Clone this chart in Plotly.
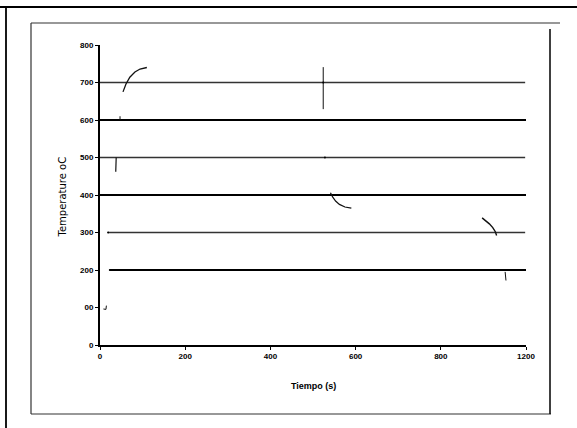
import plotly.graph_objects as go

# ---- data ----
x_tickvals = [0, 200, 400, 600, 800, 1000]
x_ticktext = ["0", "200", "400", "600", "800", "1200"]
y_tickvals = [0, 100, 200, 300, 400, 500, 600, 700, 800]
y_ticktext = ["0", "00", "200", "300", "400", "500", "600", "700", "800"]

# horizontal temperature levels (start time, end time, level)
level_values = [700, 600, 500, 400, 300, 200]
level_start = [0, 0, 0, 0, 19, 23]
level_end = [998, 1000, 998, 1000, 998, 1000]
level_thick = [False, True, False, True, False, True]

# curve fragments
arc1_x = [54, 61, 70, 82, 94, 110]
arc1_y = [675, 696, 714, 728, 736, 740]
tick600_x = [47, 47]
tick600_y = [600, 610]
tick500_x = [37, 38]
tick500_y = [462, 500]
cross_v_x = [524, 524]
cross_v_y = [629, 741]
curve400_x = [541, 546, 553, 562, 575, 590]
curve400_y = [406, 395, 384, 375, 368, 365]
curve300_x = [897, 905, 914, 922, 928, 931]
curve300_y = [339, 332, 323, 313, 302, 292]
tick200_x = [951, 953]
tick200_y = [195, 172]
mark100_x = [8, 14, 15]
mark100_y = [96, 95, 105]
dots_x = [19, 23, 524, 528]
dots_y = [300, 200, 700, 500]

W, H = 577, 428
L, R, T, B = 100, 526, 45, 345

fig = go.Figure()

for lv, xs, xe, th in zip(level_values, level_start, level_end, level_thick):
    fig.add_trace(go.Scatter(
        x=[xs, xe], y=[lv, lv], mode="lines",
        line=dict(color="#000000" if th else "#333333", width=2.2 if th else 1.3),
        showlegend=False, hoverinfo="skip"))

for xs, ys, w in [(arc1_x, arc1_y, 1.3), (tick600_x, tick600_y, 1.0),
                  (tick500_x, tick500_y, 1.2), (cross_v_x, cross_v_y, 1.0),
                  (curve400_x, curve400_y, 1.2), (curve300_x, curve300_y, 1.4),
                  (tick200_x, tick200_y, 1.0), (mark100_x, mark100_y, 1.0)]:
    fig.add_trace(go.Scatter(x=xs, y=ys, mode="lines",
                             line=dict(color="#111111", width=w),
                             showlegend=False, hoverinfo="skip"))

fig.add_trace(go.Scatter(x=dots_x, y=dots_y, mode="markers",
                         marker=dict(color="black", size=2),
                         showlegend=False, hoverinfo="skip"))

def px2x(p):
    return (p - L) / (R - L)

def py2y(p):
    return (B - p) / (B - T)

shapes = []
# outer frame lines
shapes.append(dict(type="line", xref="paper", yref="paper",
                   x0=px2x(0), x1=px2x(577), y0=py2y(7), y1=py2y(7),
                   line=dict(color="black", width=2)))
shapes.append(dict(type="line", xref="paper", yref="paper",
                   x0=px2x(6), x1=px2x(6), y0=py2y(7), y1=py2y(428),
                   line=dict(color="black", width=1.8)))
# inner frame
shapes.append(dict(type="line", xref="paper", yref="paper",
                   x0=px2x(31), x1=px2x(560), y0=py2y(23), y1=py2y(23),
                   line=dict(color="#333333", width=1.2)))
shapes.append(dict(type="line", xref="paper", yref="paper",
                   x0=px2x(31), x1=px2x(31), y0=py2y(23), y1=py2y(414),
                   line=dict(color="#333333", width=1.2)))
shapes.append(dict(type="line", xref="paper", yref="paper",
                   x0=px2x(31), x1=px2x(551), y0=py2y(414), y1=py2y(414),
                   line=dict(color="#333333", width=1.2)))
shapes.append(dict(type="line", xref="paper", yref="paper",
                   x0=px2x(550), x1=px2x(550), y0=py2y(29), y1=py2y(414),
                   line=dict(color="black", width=1.5)))

tickfont = dict(family="Liberation Sans", size=8, color="black", weight="bold")

fig.update_layout(
    width=W, height=H, autosize=False,
    margin=dict(l=L, r=W - R, t=T, b=H - B, pad=0),
    paper_bgcolor="white", plot_bgcolor="white",
    shapes=shapes,
    xaxis=dict(range=[0, 1000], tickvals=x_tickvals, ticktext=x_ticktext,
               showgrid=False, zeroline=False, showline=True,
               linecolor="black", linewidth=1.5, ticks="outside",
               ticklen=3, tickwidth=1, tickcolor="black",
               tickfont=tickfont, fixedrange=True),
    yaxis=dict(range=[0, 800], tickvals=y_tickvals, ticktext=y_ticktext,
               showgrid=False, zeroline=False, showline=True,
               linecolor="black", linewidth=2, ticks="outside",
               ticklen=3, tickwidth=1, tickcolor="black",
               tickfont=tickfont, fixedrange=True),
    annotations=[
        dict(text="<b>Tiempo (s)</b>", xref="paper", yref="paper",
             x=px2x(313), y=py2y(393), showarrow=False,
             font=dict(family="Liberation Sans", size=9, color="black")),
        dict(text="Temperature oC", xref="paper", yref="paper",
             x=px2x(55), y=py2y(197), showarrow=False, textangle=-90,
             font=dict(family="DejaVu Sans", size=10, color="black")),
    ],
)

fig.write_html("out.html", config={"displayModeBar": False},
               post_script="document.body.style.margin='0';document.body.style.overflow='hidden';")
